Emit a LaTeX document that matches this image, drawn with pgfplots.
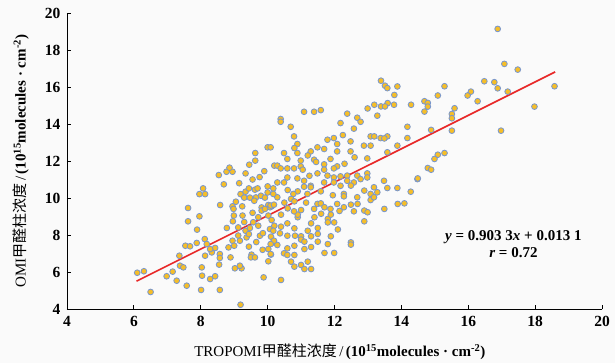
\documentclass[border=0pt]{standalone}
\usepackage{pgfplots}
\pgfplotsset{compat=1.18}
\usepackage{fontspec}
\setmainfont{Liberation Serif}
\newfontfamily\cjk{Noto Sans CJK SC}

\definecolor{dotfill}{RGB}{246,190,40}
\definecolor{dotedge}{RGB}{120,150,205}
\definecolor{fitred}{RGB}{232,40,40}
\definecolor{bg}{RGB}{250,250,250}

\begin{document}
\begin{tikzpicture}
% page background and frame of the picture
\fill[bg] (-67pt,-54pt) rectangle (548pt,309pt);
\begin{axis}[
  scale only axis,
  width=535pt, height=296pt,
  xmin=4, xmax=20, ymin=4, ymax=20,
  axis x line*=bottom, axis y line*=left,
  axis line style={line width=0.9pt, -},
  xtick={4,6,...,20}, ytick={4,6,...,20},
  tick align=inside,
  major tick length=4pt,
  tick style={line width=0.8pt, black},
  /pgf/number format/assume math mode=true,
  ticklabel style={font=\fontsize{15.5}{18}\selectfont\bfseries},
  xticklabel style={yshift=-4pt},
  yticklabel style={xshift=-3pt},
  xlabel={TROPOMI{\cjk 甲醛柱浓度}\,/\,\textbf{(10\textsuperscript{15}molecules\ ·\ cm\textsuperscript{-2})}},
  ylabel={OMI{\cjk 甲醛柱浓度}\,/\,\textbf{(10\textsuperscript{15}molecules\ ·\ cm\textsuperscript{-2})}},
  label style={font=\fontsize{15}{17}\selectfont},
  xlabel style={at={(axis description cs:0.51,-0.145)}, anchor=center},
  ylabel style={at={(axis description cs:-0.086,0.5)}, anchor=center},
  clip=false,
]
\addplot[only marks, mark=*, mark size=2.9pt,
  mark options={fill=dotfill, draw=dotedge, line width=0.8pt}]
table[row sep=\\]{
x y\\
6.10 5.96\\ 6.30 6.04\\ 6.50 4.92\\ 6.98 5.77\\ 7.16 6.02\\ 7.28 5.53\\
7.58 5.26\\ 7.36 6.88\\ 7.38 6.34\\ 7.48 6.25\\ 7.54 7.42\\ 7.68 7.39\\
7.88 7.57\\ 7.89 8.29\\ 7.62 8.74\\ 7.62 9.46\\ 7.96 9.01\\ 8.12 7.78\\
8.18 7.51\\ 8.13 6.88\\ 8.03 6.25\\ 8.04 5.80\\ 8.01 5.03\\ 8.28 5.62\\
8.43 5.77\\ 8.33 7.06\\ 8.43 7.30\\ 8.57 5.03\\ 8.57 6.97\\ 8.57 6.76\\
8.55 6.40\\ 8.78 8.38\\ 8.83 7.33\\ 8.89 6.79\\ 7.96 10.21\\ 8.13 10.21\\
8.07 10.52\\ 8.69 10.74\\ 8.54 11.24\\ 8.77 11.42\\ 8.95 11.42\\ 8.86 11.64\\
8.58 9.62\\ 8.28 7.24\\
10.00 12.74\\ 10.09 12.74\\ 9.63 12.43\\ 9.63 12.02\\ 9.34 11.33\\ 9.76 11.13\\
9.05 9.80\\ 8.95 9.55\\ 9.24 9.55\\ 9.19 10.21\\ 9.34 10.34\\ 9.44 10.52\\
9.30 10.02\\ 9.47 10.02\\ 9.62 10.45\\ 9.70 10.52\\ 9.65 10.03\\ 9.80 10.12\\
9.92 10.02\\ 10.00 10.63\\ 10.00 10.30\\ 10.17 10.52\\ 10.20 11.75\\ 9.82 9.49\\
10.02 9.62\\ 10.12 9.55\\
8.96 8.74\\ 8.99 9.05\\ 8.98 9.41\\ 9.25 9.05\\ 9.12 8.41\\ 9.12 7.97\\
9.17 7.69\\ 9.34 8.23\\ 9.37 7.87\\ 9.44 7.37\\ 9.52 6.94\\ 9.50 6.79\\
9.62 6.79\\ 9.44 8.05\\ 9.47 8.38\\ 9.57 8.69\\ 9.72 8.50\\ 9.77 7.96\\
9.82 9.32\\ 9.92 9.41\\ 10.07 9.50\\ 10.02 9.05\\ 10.12 8.81\\ 10.07 8.32\\
10.10 7.91\\ 10.17 7.60\\ 10.02 7.24\\ 10.10 6.94\\ 10.02 6.58\\ 9.88 5.71\\
9.72 8.96\\ 8.95 7.69\\ 9.00 7.42\\ 9.02 6.20\\ 9.22 6.20\\ 9.17 6.34\\
9.19 4.23\\ 9.55 9.20\\ 9.66 7.62\\ 9.85 7.20\\ 9.30 8.70\\ 9.86 8.10\\
9.60 9.85\\ 9.15 10.80\\ 9.55 11.00\\ 9.90 11.45\\ 9.45 11.80\\
13.39 16.34\\ 13.51 16.07\\ 13.58 15.94\\ 13.88 16.03\\ 13.79 15.57\\ 13.59 15.13\\
13.39 14.95\\ 13.19 15.04\\ 12.99 14.84\\ 13.78 15.04\\ 13.51 14.95\\ 14.29 15.04\\
11.09 14.66\\ 11.39 14.66\\ 11.59 14.75\\ 12.38 14.56\\ 12.68 14.34\\ 12.78 14.12\\
13.28 14.45\\ 12.18 14.05\\ 12.58 13.75\\ 10.39 14.27\\ 10.39 14.12\\ 10.69 13.85\\
10.79 13.33\\ 10.89 12.92\\ 10.49 12.43\\ 10.89 12.43\\ 11.29 12.52\\ 11.49 12.74\\
11.69 12.65\\ 11.79 13.15\\ 11.98 13.24\\ 12.08 12.92\\ 12.08 12.52\\ 12.48 13.06\\
12.48 12.52\\ 12.88 12.83\\ 13.08 13.33\\ 13.38 13.24\\ 13.58 13.33\\ 13.08 12.83\\
13.58 12.47\\ 13.88 12.83\\ 14.18 13.24\\ 14.18 13.85\\ 13.19 13.33\\ 13.49 13.22\\
10.59 12.11\\ 10.29 11.75\\ 10.39 11.60\\ 10.59 11.60\\ 10.79 11.60\\ 10.99 12.02\\
10.99 11.71\\ 11.05 11.53\\ 11.39 12.07\\ 11.88 12.11\\ 11.69 11.82\\ 11.69 11.53\\
11.49 11.33\\ 12.08 11.71\\ 11.98 11.60\\ 11.79 11.21\\ 11.98 11.11\\ 12.18 11.17\\
12.38 11.21\\ 12.68 11.21\\ 12.98 11.33\\ 12.98 12.14\\ 12.98 11.11\\ 12.38 10.93\\
12.58 10.84\\ 12.78 11.02\\ 13.48 10.93\\ 14.48 11.02\\ 10.59 11.11\\ 10.49 10.84\\
10.29 10.84\\ 10.89 11.06\\ 11.09 10.93\\ 11.29 10.66\\ 11.69 10.84\\ 12.18 10.66\\
11.98 10.84\\ 11.20 12.30\\ 11.45 11.95\\ 12.30 11.85\\ 12.60 12.20\\ 11.25 11.20\\
10.80 12.70\\ 12.25 13.40\\
10.60 10.43\\ 10.90 10.36\\ 11.09 10.61\\ 11.29 10.58\\ 11.19 10.22\\ 10.77 10.22\\
10.70 9.95\\ 10.80 9.82\\ 10.29 10.04\\ 10.17 10.22\\ 10.09 9.59\\ 10.19 9.64\\
11.59 10.36\\ 12.28 10.22\\ 12.28 10.09\\ 12.49 10.67\\ 12.68 10.04\\ 12.89 10.40\\
13.08 10.22\\ 13.08 9.89\\ 13.18 10.04\\ 13.28 10.31\\ 13.18 10.58\\ 13.58 10.54\\
13.88 10.54\\ 14.28 10.34\\ 11.49 9.68\\ 11.39 9.41\\ 11.59 9.71\\ 11.70 9.50\\
11.88 9.41\\ 12.08 9.68\\ 12.28 9.50\\ 12.49 9.64\\ 12.69 9.68\\ 12.58 9.28\\
12.89 9.32\\ 12.99 9.23\\ 12.89 8.74\\ 13.49 9.41\\ 13.89 9.68\\ 14.09 9.71\\
11.80 8.87\\ 11.89 9.10\\ 11.80 8.68\\ 11.99 8.68\\ 11.40 8.96\\ 11.30 8.63\\
11.50 8.38\\ 11.20 8.23\\ 10.90 8.96\\ 10.90 9.10\\ 11.00 9.35\\ 10.79 9.28\\
10.60 9.44\\ 10.40 9.10\\ 10.59 8.63\\ 10.80 8.36\\ 10.40 8.45\\ 10.20 8.50\\
10.17 8.23\\ 10.37 8.09\\ 10.59 7.96\\ 10.82 7.96\\ 11.00 7.93\\ 11.00 7.75\\
11.10 7.64\\ 11.30 7.93\\ 11.50 8.06\\ 11.89 7.93\\ 11.50 7.64\\ 11.80 7.51\\
11.70 7.03\\ 11.99 7.03\\ 12.49 7.60\\ 12.49 7.48\\ 11.10 7.24\\ 10.80 7.42\\
10.59 7.28\\ 10.29 7.46\\ 10.19 7.69\\ 10.09 7.51\\ 10.49 7.01\\ 10.59 6.92\\
10.80 6.92\\ 10.70 6.56\\ 10.80 6.29\\ 11.00 6.38\\ 11.20 6.56\\ 11.10 6.16\\
11.30 6.16\\ 10.40 5.57\\ 10.09 6.97\\ 11.15 9.75\\ 11.95 10.15\\ 12.15 9.30\\
11.60 9.15\\ 12.10 8.30\\ 11.30 7.35\\ 10.50 9.75\\
16.88 19.14\\ 17.08 17.25\\ 17.48 16.94\\ 16.48 16.31\\ 16.78 16.26\\ 16.88 15.93\\
17.18 15.75\\ 18.58 16.04\\ 15.29 16.04\\ 15.09 15.54\\ 16.08 15.75\\ 15.98 15.54\\
16.28 15.23\\ 14.69 15.23\\ 14.79 15.14\\ 14.79 14.94\\ 14.69 14.67\\ 15.59 14.85\\
15.51 14.54\\ 15.51 14.31\\ 17.98 14.94\\ 14.89 13.68\\ 15.51 13.64\\ 16.98 13.64\\
15.29 12.43\\ 15.09 12.34\\ 14.99 12.11\\ 14.79 11.62\\ 14.89 11.53\\ 14.49 11.06\\
};
% least-squares fit y = 0.9033x + 0.0131
\addplot[fitred, line width=1.6pt] coordinates {(6.08,5.505) (18.6,16.815)};
\node[font=\fontsize{15}{18}\selectfont\bfseries, align=center]
  at (axis cs:17.35,7.52)
  {\textit{y} = 0.903 3\textit{x} + 0.013 1\\[-1pt] \textit{r} = 0.72};
\end{axis}
\end{tikzpicture}
\end{document}
